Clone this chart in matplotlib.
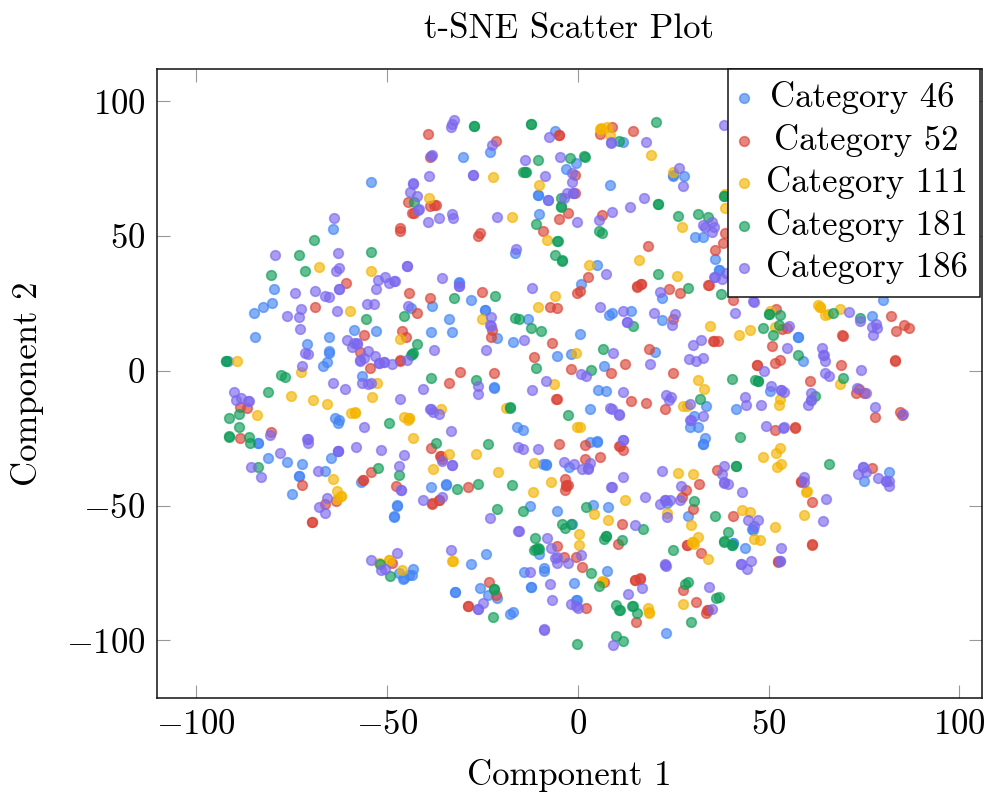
import numpy as np
import matplotlib
matplotlib.use("Agg")
import matplotlib.pyplot as plt

plt.rcParams['font.family'] = ['cmr10', 'DejaVu Serif']
plt.rcParams['mathtext.fontset'] = 'cm'
plt.rcParams['axes.unicode_minus'] = False

labels = ['Category 46', 'Category 52', 'Category 111', 'Category 181', 'Category 186']
colors = ['#4285F4', '#DB4437', '#F4B400', '#0F9D58', '#7B68EE']

cat46 = [(-54.2,70),(-64.1,52.5),(-79.6,30.5),(-80,25),(-82.3,23.6),(-84.8,21.5),(-84.5,12.6),(-71,10),(-65,12.6),(-65.1,7.2),(-65.1,6.8),(-65.7,3.4),(-66.8,1.8),(-58.7,15),(-52.8,14.8),(-43.6,23.3),(-38.1,24),(-33.7,19.2),(-38.4,14.4),(-33,14.5),(-31.2,32.7),(-91.6,3.7),
(-6,89),(-30,79.5),(-23,81.2),(-0.5,77.1),(-3.1,75),(8.5,69),(-10.5,65.2),(-10.4,65.3),(-7.7,63.3),(-10.2,58.1),(11.8,85),(25,72.3),(25.1,72.5),(27.8,72.2),(-16.4,43.7),(36.1,41.4),(37,37.4),(37.1,37.5),(30.8,49.6),(32.9,49.7),(5.1,39.4),(0.8,32.1),(-31,33.1),(-28,26.4),(-24.3,22.5),(-24.2,22.6),(-12.9,19.2),(8.2,20.7),(9.1,21.5),(14,22.3),(22,18.8),(22,27.2),(0.6,13.7),(-17,10.8),(-21,12.3),(-5.4,5.5),(-1.8,6.4),(20.2,7),(6.8,1.9),
(80.1,26.3),(77.2,20.5),(59.1,3.6),(57.6,12.7),(57.7,12.6),(50.4,-7.5),(75,-40.8),(81.5,-37.5),(45.7,-58.8),(45.9,-59),
(-56.6,-1.9),(-63.5,-17.6),(-62.6,-18.2),(-62.8,-19.2),(-83.7,-26.7),(-83.6,-26.8),(-81,-32.5),(-76.2,-33.7),(-72.1,-34.7),(-64.5,-32.3),(-62.8,-29.7),(-66.3,-37.3),(-73.1,-39),(-73,-39.1),(-74.9,-45.6),(-56.8,-41.3),(-47.2,-49.8),(-47.3,-50.2),(-48.1,-54),(-48,-54.1),(-38.5,-43.2),(-34.5,-41.9),(-34.5,-42.4),(-32.2,-82.1),(-43.2,-73.4),(-43.4,-75.6),(-44.3,-75.9),(-45.6,-76.8),(-45.8,-77.1),(-46.9,-75.1),
(-21.9,-6.1),(-21.8,-6.2),(5.4,-7),(7.5,-7.5),(3.2,-14.3),(-15.9,-20.7),(-14.4,-22),(3.2,-26.4),(5,-26.2),(5.1,-26.3),(33.5,-13.2),(30.5,-16.6),(29.5,-20.7),(31.4,-20.7),(33.4,-24.8),(32.7,-27.1),(32.8,-27),(41.4,-14.2),(-9.2,-34.7),(-8.3,-34.7),(-8.4,-34.8),(-2.3,-35.7),(-12.6,-50),(-5.4,-52),(4,-49.9),(8,-50.4),(-1.6,-56.8),(-10.1,-68.1),(-24,-68.1),(-28,-71.7),(-14,-74.7),(-8.9,-74.3),(-8.8,-73),(7.7,-74.3),(-1,-78.7),(-12.3,-80.2),(-12.2,-80.3),(-25.5,-80.6),(-32.1,-82),(-23.4,-83.2),(-21.2,-84.2),(-0.4,-85.1),(-0.3,-85),(-17.6,-90.1),(-17,-89.4),(23.2,-97.4),(29,-53.9),(23.4,-48.9),(40.7,-63.8),(40.8,-63.9),(43.7,-65.7)]

cat52 = [(-39.1,88),(-38.6,79.5),(-46.6,52.9),(-46.5,51.8),(-44.5,62.5),(-38.6,61.3),(-37,61.6),(-37.5,61.5),(-43.4,58.5),(-42.8,58.7),(-60.8,32.6),(-44.2,28.8),(-38.8,27),(-68.9,23.6),(-42.1,21.4),(-56,13.4),(-45.9,14.7),(-44.9,12.6),(-57,7),(-46.5,4),(-46.5,3.8),(-54.3,1.2),
(-21.3,85.3),(-4.9,87.4),(-4.8,87.5),(9.1,90.5),(5.8,87.8),(14.6,89.1),(-0.7,72.7),(-0.7,65.9),(-2.6,58.6),(-4.8,56.5),(6.4,57.7),(-9.2,52),(-25.5,51),(-26.1,49.9),(18.3,46.3),(36.1,45),(38,47.5),(38.6,51),(15.5,31.2),(15.6,31.3),(16.6,32.4),(16.5,32.3),(2.6,34.7),(-0.3,28.8),(0.6,29.5),(24,30.5),(26.8,28.7),(34.2,31.7),(34.3,31.8),(40.6,26.4),(-25,29.1),(-7.3,23.6),(-5.3,23.3),(-22.5,15),(-22.7,12.7),(25.1,19.4),(-6.6,10.2),(18.8,8),(-11.5,5),(35.5,11.1),(35.6,11),(36.8,11),(12.4,2.6),(-1.8,0.8),
(51.9,23.1),(82.1,20.5),(85.6,16.9),(86.9,16),(83.3,14.7),(53.6,15.4),(54.9,16),(69.3,13.2),(69.4,13.1),(50.9,9.1),(69,2),(83,4),(83.1,3.8),(52.9,4.1),(51.6,2.8),(46.9,2.2),(47,2.1),(60.9,-3.7),(73.6,-6.6),(72.8,-8.1),(75,-8.4),(84.3,-15.3),(85,-16.3),(78,-17.1),(51.6,-21.8),(56.9,-21.1),(57,-21),(77.2,-36.2),(58.4,-41.1),(58.5,-41),(61.4,-48.6),(61.4,-64.5),(61.5,-64.4),(52.5,-70.8),(52.6,-70.7),
(-33.8,-4.6),(-88.4,-13.4),(-86.5,-13.7),(-80.4,-22.6),(-88.5,-25),(-38.4,-28.5),(-36,-31.6),(-35.9,-31.5),(-35.6,-32.8),(-54,-37.4),(-56.2,-40.6),(-56.1,-40.5),(-72.2,-42.5),(-47.7,-42.7),(-38.2,-49.3),(-38.1,-49.2),(-36.3,-47.9),(-36.2,-48),(-66.2,-49.3),(-63.4,-48.4),(-69.7,-56.2),(-69.6,-56.1),(-48.7,-71.4),
(-30.8,-0.4),(-21.9,-0.7),(-5.6,-10.6),(-5.5,-10.5),(8.7,-0.9),(24.9,-0.9),(14,-11.3),(18,-11.9),(22.8,-14.3),(-4.8,-27.1),(1.8,-27.5),(10.9,-27.9),(11,-27.8),(11.8,-29.3),(1.8,-32.7),(5.9,-32.1),(-3.2,-40.3),(-3.1,-42.5),(-3,-42.6),(-2.5,-42.4),(-3.3,-44.2),(-28.6,-43.2),(28.3,-44.2),(27.3,-47),(30.1,-51.4),(31.9,-42.1),(36.6,-36.7),(40.7,-54),(11.6,-56.7),(10.5,-64.3),(-5.4,-65.1),(-3.7,-69.2),(-0.5,-69.2),(1.1,-72.8),(28.6,-64.6),(28.7,-64.5),(32.4,-67.7),(14.9,-77.6),(15,-77.5),(16.3,-77.1),(16.4,-77),(7,-78.2),(-23.1,-78.4),(-21.4,-83.2),(-28.7,-87.3),(-28.6,-87.2),(2.2,-88.1),(15.3,-93.3),(27.6,-81.3),(30.9,-85.8),(34,-88.8),(34.1,-88.7),(33.7,-89.9)]

cat111 = [(-39,64.2),(-67.7,38.4),(-54.1,37),(-59.6,22.2),(-46.6,11.8),(-89.3,3.7),
(6.1,89.9),(6.2,90),(5.9,89.7),(7.8,90.5),(8.5,87.4),(19.2,80.2),(-22.3,71.8),(-10,68.9),(25.1,73.6),(-17.2,56.9),(27.4,53.3),(-8.1,48.7),(3.1,39.4),(16,41.3),(26,35.2),(-5.9,27.7),(-10.5,23.7),(-25.1,19.1),(34.7,16.6),(42.2,13.3),(45.2,15.3),(-0.5,6.6),(38.6,60.6),(38.6,65.5),
(62.9,24.3),(63.5,23.7),(63.6,23.6),(68.7,22.8),(64.7,20.6),(65.5,21),(50.3,22.2),(51.6,16.4),(68.8,-4.9),(53,-10.3),(52.8,-12.7),(53,-28.6),(51.9,-30.5),(48.6,-32.1),(53.2,-34.7),(52.1,-35.7),(59.9,-44.8),(60,-44.7),(59.4,-53.4),(45.1,-52.4),(51.8,-57.9),(46.3,-62.5),(47.7,-62.8),
(-72.5,-0.4),(-52.6,-4.6),(-75,-9.3),(-69.2,-10.9),(-65.7,-12.3),(-53.8,-9.7),(-83.9,-16.3),(-59.4,-15.8),(-58.3,-15.4),(-58.2,-15.5),(-45.5,-17.1),(-44.3,-17.5),(-44.2,-17.4),(-44.5,-18.2),(-35.9,-14.3),(-43,-24.8),(-33.8,-30.9),(-37.9,-36.3),(-64.1,-40.3),(-63,-44.6),(-62,-46.6),(-61.9,-46.5),(-63,-47.4),(-52,-71.2),(-49.4,-70.2),(-49.3,-70.1),(-46.1,-74),(-32.9,-70.6),
(-6.2,-4.8),(31.6,-3.3),(33.1,-6.6),(27.6,-13),(28.6,-13),(-18.8,-13.7),(-0.1,-20.7),(0.7,-20.7),(-26.6,-31),(-11.4,-34.2),(-20.8,-37.5),(-6.9,-41.4),(-11.6,-45),(12.5,-47.8),(4.2,-53.3),(7.9,-55.4),(0.4,-60.7),(0.4,-64.8),(26.4,-37.9),(30.1,-38.2),(23.3,-52.8),(29.8,-57.3),(31.4,-61.7),(30,-63.5),(30.1,-63.4),(30.5,-64.4),(34.1,-69.9),(43,-51.8),(-32.6,-70.6),(6.3,-78.2),(6.4,-78.1),(18.3,-88.1),(18.7,-89.7),(18.8,-89.6),(27.7,-86.7)]

cat181 = [(-42.9,62.8),(-69.1,48.6),(-73,43),(-54.1,44.2),(-71.4,37),(-80.4,35.6),(-32.5,27.2),(-55.5,19.1),(-45.6,20.2),(-42,10),(-43.4,6.4),(-43.6,6),(-43,6.6),(-92.1,3.7),(-92,3.6),
(-27.2,90.8),(-27.1,90.7),(-12.2,91.7),(-12.1,91.6),(20.4,92.5),(10.9,85.4),(-10.3,78.3),(-1.9,78.9),(1.7,79.6),(1.8,79.5),(-14.3,73.7),(-13.7,73.7),(-13.6,73.6),(-4.4,64.3),(-4.4,61),(-4.3,60.9),(-10.8,54.4),(-5.3,48.3),(-5.2,48.2),(5.5,51.8),(6.3,51.3),(21,61.9),(21.1,61.8),(26.2,57.3),(31.6,58.3),(34.2,57.2),(38.3,65),(38.4,64.9),(-5.9,43),(-4.2,41),(-4.1,40.9),(21,35.8),(28.9,30.9),(37.5,28.5),(-21.7,27.8),(-16.4,19.7),(-15.3,19.4),(-12.2,16),(-9.7,14.8),(14.5,16.5),(6.7,8),(-10.9,0.9),(3.5,0.2),
(50.1,21.2),(50.2,21.1),(53.1,20.6),(67,21.3),(73.9,19.7),(48.6,16),(52.8,16.9),(51.2,13.2),(57.8,5.9),(69.4,-2.5),(46.4,-3.4),(47.2,-3.9),(47.3,-3.8),(62.1,-9.3),(65.9,-34.5),
(-77.8,-1.5),(-76.6,-2.2),(-81,-7.8),(-38.5,-2.7),(-88.7,-16.1),(-91.4,-17.6),(-88.7,-21),(-91.4,-24.4),(-91.3,-24.3),(-86.1,-24.5),(-85.8,-26.9),(-49.4,-19.5),(-37,-26.8),(-83.6,-35.6),(-52.3,-36.2),(-46.7,-38.5),(-31.6,-43.7),(-51.8,-71.8),(-49.2,-76),
(-26.7,-3.4),(40.4,-3.2),(32.1,-10.6),(-17.7,-13.7),(-17.6,-13.6),(-2.6,-16.4),(-23.4,-27),(42.4,-24.6),(-26.2,-41.9),(-17.1,-42.4),(-21,-51.3),(-14.3,-52),(2.2,-50.4),(-4,-56.8),(-3.3,-58.4),(-1.8,-56.8),(17,-58.7),(7.4,-61.3),(7.5,-61.2),(7,-62.3),(11.5,-62.9),(-11.3,-61.9),(-10.2,-66),(-10.3,-65.9),(-11.4,-66.6),(-10.9,-66.2),(25,-66.6),(30.6,-48.3),(35.9,-54),(39.3,-59.9),(38.2,-63.4),(38.3,-63.3),(40.3,-64.6),(40.4,-64.5),(41.5,-35.3),(41.6,-35.2),(3.6,-75),(5.6,-80),(-22,-81.1),(-21.9,-81),(28.8,-78.2),(28.1,-79.2),(36.2,-84.3),(36.9,-84),(10,-86.8),(10.7,-88.9),(11.1,-88.9),(14.3,-87.4),(14.4,-87.3),(15.6,-89.7),(-22.1,-91.2),(29.8,-93.1),(10.1,-98.5),(11.8,-100.4),(-0.2,-101.2)]

cat186 = [(-32.5,93.1),(-32.8,91.7),(-33.2,90.6),(-38.2,80),(-38.4,79.7),(-38.9,72.2),(-43.2,69.6),(-43.1,69.5),(-43.8,66.5),(-42.1,64.8),(-41.7,59.8),(-41.6,59.9),(-32.9,58.1),(-32.7,56.6),(-36.3,56.6),(-39.1,55.2),(-63.9,56.7),(-79.3,42.8),(-62.8,43.9),(-62.4,38.2),(-63.2,37),(-44.7,38.9),(-44.6,38.8),(-35.5,34.6),(-52.2,33.8),(-50.4,34.7),(-49.4,32.6),(-48,33.3),(-47.9,33.2),(-52.9,30.5),(-62.6,30.4),(-62.5,30.3),(-68.7,29.8),(-74,28.8),(-66.3,27.7),(-65.2,27.4),(-55.2,24.7),(-53.4,24.7),(-44.5,24),(-72.5,23),(-63,22.2),(-76.2,20.2),(-72.9,19.9),(-72.6,15.7),(-60.3,11.6),(-57.8,10.2),(-57.7,10.1),(-58.7,10.2),(-59,9),(-37.6,7.6),(-71.4,6.6),(-70.7,6.4),(-55,7.4),(-55.9,4.8),(-57.1,3.9),(-57,3.8),(-53,5.6),(-52.1,3),(-52,2.9),(-50.7,3.4),(-50.6,3.3),(-48.5,2.4),(-44.6,3.9),(-72.1,1.7),(-31.2,31.5),
(38.4,91.4),(17.9,84.9),(-7.4,86.7),(-22.5,83.9),(-13.8,78.3),(-4.7,79.2),(8.8,84.6),(8.8,85),(26.6,75.2),(27.6,68.7),(-27.5,72.6),(-27.4,72.5),(-8.5,72.2),(-1.4,73.3),(-1.4,70),(-2.8,65.9),(-1.3,66.1),(-1.2,66),(-3.7,64),(-7.7,63.3),(17.3,64.3),(13.7,60.9),(9.1,59.1),(5.6,56),(-0.3,55.2),(-21.2,57.2),(-16.1,45.1),(7.5,36),(21.5,29.3),(-31.1,31.5),(-12,30.9),(32.7,54),(33.3,53.3),(35.3,55.2),(35.6,53.5),(35.3,51.5),(35.8,35),(35.9,34.9),(37.7,34.2),(38.9,36.2),(5.8,23.6),(11.9,22.3),(20,21.3),(25.6,21),(24.6,17.1),(12.9,18.1),(13,18),(-22.6,20.1),(-22.9,16.9),(-22.8,16.8),(-23.9,7.8),(-14,11.6),(9.2,6.6),(19,2.6),(30.3,9.6),(32.3,11.6),(29.1,4.5),(31,3.7),(32.8,4.8),(41.2,21.5),(45.8,25.9),
(55.3,16.8),(71,21.9),(73.9,18.6),(78.2,17.2),(77.2,16.3),(78.3,16),(77.3,13.3),(46.3,25.6),(64,8.5),(64.3,6),(64.4,5.9),(64.8,3.5),(54.7,8.6),(48.7,-0.1),(64.7,-0.8),(65.9,-2),(74.2,0.3),(73.2,-6.4),(75.4,-8.4),(77.8,-13.4),(85.2,-16.1),(50.7,-5.5),(53.2,-7.1),(53.3,-7),(54,-7.7),(61.2,-8.1),(61,-10.9),(61.1,-10.8),(60.3,-12.7),(48,-12.6),(49.4,-20.6),(53.9,-21.1),(54,-21),(74.7,-35.8),(74.8,-35.7),(73.4,-38.2),(75.4,-37.5),(78.6,-39.8),(80.7,-41),(80.8,-40.9),(81.5,-40.8),(81.6,-42.6),(59.3,-39.4),(59.3,-41.1),(65,-47.7),(64.3,-55.7),(47.3,-55.2),(46.2,-57.6),(53.2,-65.9),(52.9,-70.6),(53,-70.5),(45.5,-70.6),
(-64,-4.5),(-61,-6.7),(-56.6,-4.4),(-55,-5),(-54.2,-4.4),(-40.5,-6.9),(-46.6,-10.3),(-90,-7.7),(-88.3,-10.2),(-89.4,-10.9),(-86.3,-11.2),(-86.2,-11.1),(-38.6,-14.2),(-38.5,-14.1),(-37.9,-15.1),(-36.3,-15.9),(-55.9,-21),(-33.3,-22.3),(-80.5,-23.7),(-70.8,-25.3),(-70.7,-25.2),(-70.7,-26.6),(-58,-28.4),(-51.5,-29.5),(-45.4,-31.2),(-78,-30.6),(-62.8,-29.7),(-62.7,-29.6),(-35.5,-33.6),(-33,-35.1),(-32.9,-35),(-85.5,-35.6),(-82.9,-39.3),(-67.9,-37.3),(-46.8,-35.4),(-46.3,-44.2),(-46.2,-44.1),(-65.7,-47.3),(-67.7,-50.5),(-66.2,-52.6),(-40.5,-47.8),(-35.4,-46.7),(-47.2,-67.7),(-54.2,-70.1),(-51.6,-73.8),(-50.5,-73.4),(-33.3,-66.6),
(-26,-5.6),(-26,-8.6),(-11.9,-7),(-8.2,-3.6),(0.8,-1),(2.2,-2),(11.9,-7.9),(23.2,-9.1),(24.4,-9.8),(24,-10.8),(29.5,-12.3),(32.9,-16.6),(29.5,-18.2),(29.6,-18.1),(8.4,-13.7),(8.9,-14.3),(10.8,-16.3),(10.9,-16.2),(43.8,-9.7),(44.1,-12.6),(-15.7,-28.3),(-14.4,-29),(-10.5,-28.9),(11.8,-25.8),(11.9,-25.7),(-3.6,-33.9),(-0.9,-34.7),(3.3,-34.3),(1.1,-36.5),(2.7,-36.3),(2.8,-36.2),(11.8,-39.5),(8.8,-43.1),(8.9,-43),(22,-37.1),(38.4,-35.4),(37.9,-38.3),(38.3,-41.5),(38.4,-41.4),(39.4,-41.9),(43,-44.8),(27,-42.7),(17.7,-46.8),(21.5,-49.4),(22.8,-47.9),(22.9,-47.8),(24.2,-47.9),(26.8,-47.8),(23.3,-54.2),(-23,-54.6),(15,-57.1),(-15.5,-59.6),(-15.4,-59.5),(-8.1,-62.2),(-7,-65.9),(0.8,-68.5),(-6,-69.3),(-5.3,-69),(-5.3,-71.3),(-2.5,-71.3),(-12.5,-74.7),(22.8,-71.9),(22.9,-71.8),(23.1,-72.4),(-7.2,-79.2),(13.2,-82.7),(16.8,-80.6),(-6.7,-84.9),(-1.8,-86.5),(-0.5,-87.1),(0,-88.1),(-24.8,-86),(-26.2,-88.4),(-26.1,-88.3),(-8.8,-96),(-8.7,-95.9),(9.2,-101.7),(34.4,-80.3),(35.1,-88.5),(42.8,-71.7),(42.9,-71.6),(44.3,-73.4),(44.7,-55.4)]

series = [cat46, cat52, cat111, cat181, cat186]
xticks = [-100, -50, 0, 50, 100]
yticks = [-100, -50, 0, 50, 100]

W, H = 997, 801
fig = plt.figure(figsize=(W/100, H/100), dpi=100)
ax = fig.add_axes([156.5/W, 1-698/H, (982-156.5)/W, (698-69)/H])

for pts, lab, col in zip(series, labels, colors):
    a = np.array(pts)
    ax.scatter(a[:, 0], a[:, 1], s=48, color=col, alpha=0.65, edgecolors=col,
               linewidths=1.2, label=lab, zorder=3)

ax.set_xlim(-110.3, 105.9)
ax.set_ylim(-121.4, 112)
ax.set_xticks(xticks)
ax.set_yticks(yticks)
ax.set_xticklabels([f'${v}$' for v in xticks], fontsize=25)
ax.set_yticklabels([f'${v}$' for v in yticks], fontsize=25)
ax.tick_params(direction='in', length=9.5, width=0.8, color='#999999', top=True, right=True, pad=8)
for s in ax.spines.values():
    s.set_linewidth(1.1)
    s.set_color('#111111')

ax.set_xlabel('Component 1', fontsize=25, labelpad=13)
ax.set_ylabel('Component 2', fontsize=25, labelpad=15.6)
ax.set_title('t-SNE Scatter Plot', fontsize=25, pad=22)

leg = ax.legend(loc='upper right', bbox_to_anchor=(0.9975, 1.0), fontsize=25, frameon=True,
                fancybox=False, framealpha=1, edgecolor='#111111', borderaxespad=0,
                handletextpad=0.53, labelspacing=0.27, borderpad=0.36, handlelength=0.2,
                scatterpoints=1)
leg.get_frame().set_linewidth(1.1)
leg.set_zorder(5)
for t, dx in zip(leg.get_texts(), [4.4, 8.7, 0, 0, 0]):
    t.set_x(dx)

fig.savefig('out.png', dpi=100)
